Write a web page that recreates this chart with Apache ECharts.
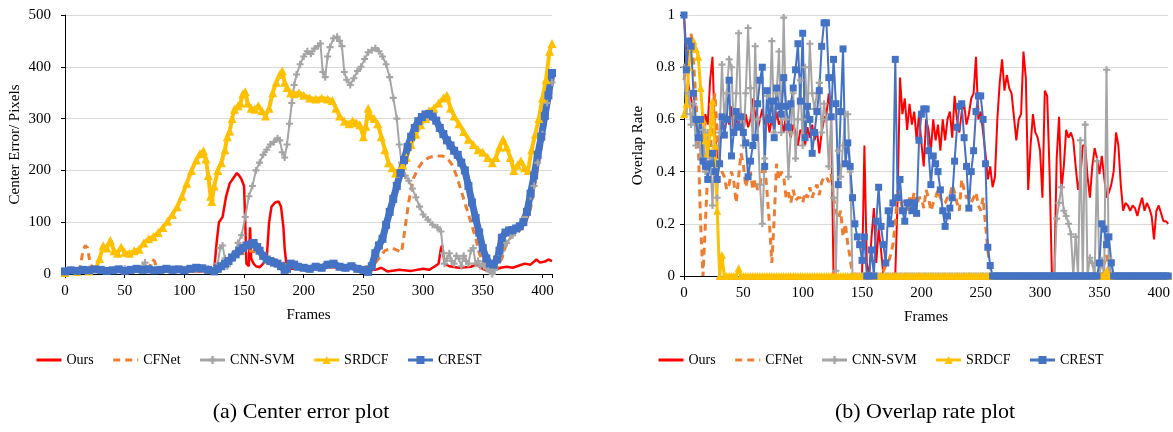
<!DOCTYPE html>
<html>
<head>
    <meta charset="UTF-8" />
    <title>Center error / overlap rate</title>
    <script src="https://cdn.jsdelivr.net/npm/echarts@6/dist/echarts.min.js"></script>
    <style>
        html, body { margin: 0; padding: 0; background: #fff; }
        #main { width: 1173px; height: 432px; }
    </style>
</head>
<body>
<div id="main"></div>
<script type="text/javascript">
    // series names (legend)
    var names = ['Ours', 'CFNet', 'CNN-SVM', 'SRDCF', 'CREST'];

    // (a) center error, [frame, pixels]
    var ceOurs = [[0,3],[5,5],[10,4],[20,6],[30,5],[40,7],[50,5],[60,6],[70,4],[80,6],[90,5],[100,7],[110,5],[120,6],[125,8],
        [127,60],[129,100],[132,110],[135,150],[138,175],[141,185],[144,195],[146,190],[148,182],[150,170],[151,100],[152,20],
        [154,15],[155,90],[156,30],[158,20],[160,15],[163,13],[166,20],[169,30],[171,100],[173,130],[176,138],[179,140],[181,130],
        [183,90],[184,50],[186,8],[190,10],[200,12],[210,10],[220,14],[230,12],[240,10],[250,9],[260,8],[265,12],[270,5],[280,8],
        [290,6],[300,10],[305,8],[310,15],[313,20],[315,50],[316,55],[318,20],[322,15],[330,12],[340,14],[345,18],[350,10],[355,5],
        [360,8],[365,12],[370,14],[375,12],[380,16],[385,20],[390,18],[395,28],[398,22],[402,24],[405,28],[408,25]];
    var ceCfnet = [[0,3],[5,4],[10,6],[13,15],[15,45],[17,55],[19,50],[21,20],[24,8],[30,6],[40,8],[50,7],[60,9],[70,8],[73,28],
        [75,25],[77,10],[85,8],[95,12],[105,10],[115,8],[125,10],[135,20],[140,30],[145,38],[150,40],[155,45],[160,42],[165,35],
        [170,30],[175,28],[180,25],[185,18],[190,15],[200,12],[210,14],[220,12],[230,15],[240,12],[250,14],[258,15],[263,30],
        [268,45],[274,50],[279,45],[282,42],[285,90],[288,140],[292,185],[296,205],[300,218],[305,225],[310,228],[316,228],
        [320,224],[324,212],[328,190],[332,160],[336,130],[340,100],[344,70],[347,40],[350,25],[354,15],[358,10],[362,12],
        [366,30],[370,60],[375,75],[380,82],[385,95],[390,125],[395,190],[400,255],[405,330],[408,375]];
    var ceCnn = [[0,5],[5,8],[10,6],[20,9],[30,7],[40,8],[50,10],[60,8],[65,15],[67,22],[69,10],[80,8],[90,10],[100,9],[110,8],
        [120,10],[125,8],[128,20],[130,50],[132,55],[134,30],[136,15],[139,25],[142,40],[145,60],[148,75],[151,110],[154,150],
        [157,170],[160,200],[163,215],[166,230],[169,240],[172,250],[175,255],[178,262],[180,258],[182,235],[184,225],[186,250],
        [188,290],[190,330],[192,365],[194,385],[197,405],[200,420],[203,430],[206,425],[209,435],[212,440],[214,445],[216,390],
        [218,380],[220,420],[222,438],[225,455],[228,458],[230,450],[232,440],[234,390],[236,375],[239,365],[242,378],[245,392],
        [248,400],[251,415],[254,428],[257,432],[260,436],[263,430],[266,420],[269,405],[272,380],[275,340],[278,300],[280,250],
        [282,215],[285,190],[288,180],[291,165],[294,148],[297,130],[300,115],[304,105],[308,95],[312,90],[315,82],[317,40],
        [318,20],[320,30],[322,40],[324,25],[326,20],[328,35],[330,30],[332,15],[334,35],[336,25],[338,20],[340,45],[342,50],
        [344,20],[346,25],[348,15],[350,20],[353,10],[356,5],[358,0],[360,8],[363,30],[366,45],[370,60],[375,75],[380,88],
        [385,110],[390,150],[393,170],[396,215],[400,270],[404,330],[408,370]];
    var ceSrdcf = [[0,3],[10,5],[20,6],[26,10],[29,30],[32,55],[35,50],[38,65],[41,45],[44,40],[47,52],[50,42],[54,40],[58,45],
        [62,48],[66,60],[70,68],[74,72],[78,80],[82,90],[86,102],[90,115],[94,130],[98,150],[102,175],[106,200],[110,220],
        [113,232],[116,238],[118,222],[120,190],[122,150],[123,140],[125,170],[128,200],[131,215],[134,240],[136,265],[138,276],
        [140,300],[142,318],[145,325],[147,330],[149,348],[151,352],[153,330],[156,320],[159,318],[162,325],[165,315],[168,305],
        [171,320],[174,350],[177,370],[180,385],[182,392],[184,370],[186,360],[189,350],[192,348],[196,350],[200,345],[205,340],
        [210,338],[215,340],[220,338],[224,335],[227,320],[230,305],[234,295],[238,290],[241,296],[244,292],[247,288],[250,265],
        [252,285],[254,320],[256,305],[259,300],[262,290],[265,265],[268,240],[271,215],[274,205],[277,195],[280,200],[283,210],
        [286,225],[290,250],[294,270],[298,288],[302,300],[305,315],[309,320],[313,330],[317,340],[320,345],[323,320],[326,305],
        [330,290],[334,275],[338,260],[342,250],[346,240],[350,235],[354,225],[358,215],[361,225],[364,245],[367,260],[370,245],
        [373,225],[376,200],[379,210],[382,218],[385,205],[388,200],[391,240],[394,270],[397,300],[400,340],[403,375],[406,430],
        [408,445]];
    var ceCrest = [[0,5],[5,7],[10,6],[15,8],[20,7],[25,9],[30,8],[35,6],[40,7],[45,9],[50,6],[55,8],[60,10],[65,8],[70,9],
        [75,7],[80,8],[85,10],[90,8],[95,9],[100,7],[105,10],[110,12],[115,11],[120,8],[125,5],[128,10],[131,15],[134,20],[137,25],
        [140,32],[143,38],[146,45],[149,50],[152,55],[155,57],[158,60],[161,52],[163,45],[166,35],[169,28],[172,25],[175,22],
        [178,20],[181,15],[184,8],[186,10],[189,20],[192,18],[195,14],[200,12],[205,10],[210,14],[215,12],[220,18],[225,20],
        [230,14],[235,12],[240,15],[245,10],[250,8],[254,4],[257,15],[260,40],[263,55],[266,68],[269,95],[272,120],[275,145],
        [278,170],[281,195],[284,220],[287,245],[290,265],[293,282],[296,295],[299,303],[302,308],[305,309],[308,304],[311,296],
        [314,282],[317,270],[320,258],[323,248],[326,238],[329,230],[332,215],[335,200],[338,170],[341,138],[344,108],[347,80],
        [350,50],[353,30],[356,20],[359,18],[362,28],[364,45],[366,70],[369,80],[372,84],[375,85],[378,88],[381,92],[384,100],
        [387,120],[390,155],[393,190],[396,230],[399,265],[402,305],[405,345],[408,388]];

    // (b) overlap rate, one value every ovStep frames starting at frame 0
    var ovStep = 2;
    var ovOurs = [
        1.00, 0.85, 0.72, 0.68, 0.62, 0.58, 0.55, 0.60, 0.50, 0.62,
        0.58, 0.75, 0.84, 0.55, 0.45, 0.52, 0.60, 0.55, 0.62, 0.58,
        0.65, 0.55, 0.60, 0.58, 0.63, 0.55, 0.62, 0.57, 0.60, 0.68,
        0.62, 0.56, 0.60, 0.64, 0.58, 0.62, 0.55, 0.60, 0.57, 0.63,
        0.58, 0.60, 0.55, 0.62, 0.57, 0.53, 0.58, 0.55, 0.50, 0.56,
        0.55, 0.50, 0.57, 0.53, 0.58, 0.52, 0.56, 0.47, 0.55, 0.60,
        0.62, 0.70, 0.60, 0, 0, 0, 0, 0, 0, 0,
        0, 0, 0, 0, 0, 0, 0.50, 0.05, 0, 0.15,
        0.26, 0.05, 0.18, 0.10, 0, 0, 0, 0, 0, 0,
        0.30, 0.76, 0.62, 0.68, 0.56, 0.66, 0.58, 0.63, 0.52, 0.62,
        0.51, 0.42, 0.60, 0.56, 0.48, 0.60, 0.52, 0.58, 0.48, 0.60,
        0.52, 0.60, 0.63, 0.53, 0.69, 0.60, 0.55, 0.63, 0.66, 0.58,
        0.62, 0.68, 0.70, 0.84, 0.60, 0.63, 0.55, 0.47, 0.37, 0.42,
        0.34, 0.38, 0.60, 0.74, 0.83, 0.71, 0.77, 0.72, 0.70, 0.61,
        0.52, 0.60, 0.62, 0.86, 0.76, 0.33, 0.50, 0.62, 0.55, 0.53,
        0.48, 0.30, 0.71, 0.69, 0.40, 0, 0, 0.45, 0.61, 0.33,
        0.42, 0.56, 0.53, 0.55, 0.52, 0.42, 0.33, 0.38, 0.50, 0.50,
        0.38, 0.30, 0.42, 0.49, 0.45, 0.39, 0.46, 0.38, 0.30, 0.32,
        0.35, 0.40, 0.55, 0.50, 0.35, 0.25, 0.28, 0.27, 0.25, 0.27,
        0.26, 0.23, 0.27, 0.30, 0.25, 0.28, 0.26, 0.23, 0.14, 0.25,
        0.27, 0.24, 0.21, 0.21, 0.20];
    var ovCfnet = [
        0.75, 0.82, 0.90, 0.93, 0.82, 0.68, 0.51, 0.20, 0, 0.20,
        0.40, 0.46, 0.60, 0.70, 0.55, 0.45, 0.40, 0.38, 0.33, 0.35,
        0.40, 0.36, 0.28, 0.38, 0.47, 0.43, 0.34, 0.38, 0.40, 0.33,
        0.37, 0.33, 0.35, 0.40, 0.43, 0.32, 0.20, 0.05, 0.22, 0.43,
        0.37, 0.40, 0.38, 0.30, 0.32, 0.28, 0.33, 0.29, 0.30, 0.30,
        0.28, 0.32, 0.30, 0.34, 0.30, 0.33, 0.35, 0.31, 0.36, 0.38,
        0.38, 0.36, 0.39, 0.30, 0.25, 0.22, 0.25, 0.15, 0.20, 0.12,
        0.07, 0, 0, 0, 0, 0, 0, 0, 0, 0,
        0, 0, 0, 0, 0.02, 0.04, 0.05, 0.08, 0.12, 0.20,
        0.33, 0.30, 0.26, 0.29, 0.25, 0.30, 0.28, 0.32, 0.27, 0.30,
        0.30, 0.26, 0.33, 0.30, 0.25, 0.28, 0.30, 0.33, 0.30, 0.28,
        0.28, 0.30, 0.30, 0.35, 0.32, 0.28, 0.25, 0.37, 0.33, 0.30,
        0.30, 0.28, 0.30, 0.32, 0.27, 0.25, 0.30, 0.20, 0.10, 0.02,
        0, 0, 0, 0, 0, 0, 0, 0, 0, 0,
        0, 0, 0, 0, 0, 0, 0, 0, 0, 0,
        0, 0, 0, 0, 0, 0, 0, 0, 0, 0,
        0, 0, 0, 0, 0, 0, 0, 0, 0, 0,
        0, 0, 0, 0, 0, 0, 0, 0.05, 0.08, 0.03,
        0, 0, 0, 0, 0, 0, 0, 0, 0, 0,
        0, 0, 0, 0, 0, 0, 0, 0, 0, 0,
        0, 0, 0, 0, 0];
    var ovCnn = [
        0.80, 0.62, 0.70, 0.58, 0.66, 0.50, 0.60, 0.45, 0.56, 0.40,
        0.55, 0.45, 0.27, 0.50, 0.30, 0.55, 0.81, 0.60, 0.70, 0.83,
        0.80, 0.55, 0.70, 0.93, 0.60, 0.50, 0.70, 0.95, 0.72, 0.50,
        0.88, 0.60, 0.35, 0.20, 0.45, 0.69, 0.60, 0.90, 0.55, 0.70,
        0.86, 0.55, 0.99, 0.60, 0.38, 0.55, 0.70, 0.45, 0.60, 0.75,
        0.50, 0.80, 0.60, 0.89, 0.70, 0.64, 0.70, 0.74, 0.55, 0.66,
        0.60, 0.42, 0.61, 0.30, 0.02, 0.48, 0.38, 0.50, 0.62, 0.62,
        0.40, 0, 0, 0, 0, 0, 0, 0, 0, 0,
        0, 0, 0, 0, 0, 0, 0, 0, 0, 0,
        0, 0, 0, 0, 0, 0, 0, 0, 0, 0,
        0, 0, 0, 0, 0, 0, 0, 0, 0, 0,
        0, 0, 0, 0, 0, 0, 0, 0, 0, 0,
        0, 0, 0, 0, 0, 0, 0, 0, 0, 0,
        0, 0, 0, 0, 0, 0, 0, 0, 0, 0,
        0, 0, 0, 0, 0, 0, 0, 0, 0, 0,
        0, 0, 0, 0, 0, 0, 0, 0.22, 0.28, 0.34,
        0.25, 0.23, 0.20, 0.16, 0, 0.15, 0, 0.52, 0, 0.58,
        0, 0.07, 0.05, 0, 0.44, 0, 0.06, 0, 0.79, 0,
        0.06, 0, 0, 0, 0, 0, 0, 0, 0, 0,
        0, 0, 0, 0, 0, 0, 0, 0, 0, 0,
        0, 0, 0, 0, 0];
    var ovSrdcf = [
        0.62, 0.66, 0.80, 0.88, 0.90, 0.87, 0.84, 0.72, 0.60, 0.52,
        0.47, 0.55, 0.67, 0.50, 0.25, 0, 0.08, 0, 0, 0,
        0, 0, 0, 0.03, 0, 0, 0, 0, 0, 0,
        0, 0, 0, 0, 0, 0, 0, 0, 0, 0,
        0, 0, 0, 0, 0, 0, 0, 0, 0, 0,
        0, 0, 0, 0, 0, 0, 0, 0, 0, 0,
        0, 0, 0, 0, 0, 0, 0, 0, 0, 0,
        0, 0, 0, 0, 0, 0, 0, 0, 0, 0,
        0, 0, 0, 0, 0, 0, 0, 0, 0, 0,
        0, 0, 0, 0, 0, 0, 0, 0, 0, 0,
        0, 0, 0, 0, 0, 0, 0, 0, 0, 0,
        0, 0, 0, 0, 0, 0, 0, 0, 0, 0,
        0, 0, 0, 0, 0, 0, 0, 0, 0, 0,
        0, 0, 0, 0, 0, 0, 0, 0, 0, 0,
        0, 0, 0, 0, 0, 0, 0, 0, 0, 0,
        0, 0, 0, 0, 0, 0, 0, 0, 0, 0,
        0, 0, 0, 0, 0, 0, 0, 0, 0, 0,
        0, 0, 0, 0, 0, 0, 0, 0, 0.02, 0,
        0, 0, 0, 0, 0, 0, 0, 0, 0, 0,
        0, 0, 0, 0, 0, 0, 0, 0, 0, 0,
        0, 0, 0, 0, 0];
    var ovCrest = [
        1.00, 0.79, 0.90, 0.88, 0.70, 0.60, 0.53, 0.60, 0.44, 0.42,
        0.37, 0.43, 0.47, 0.40, 0.37, 0.43, 0.61, 0.54, 0.60, 0.75,
        0.46, 0.55, 0.63, 0.57, 0.61, 0.55, 0.51, 0.38, 0.44, 0.50,
        0.53, 0.66, 0.75, 0.80, 0.42, 0.71, 0.60, 0.67, 0.53, 0.72,
        0.65, 0.62, 0.76, 0.65, 0.57, 0.66, 0.72, 0.79, 0.89, 0.67,
        0.93, 0.53, 0.65, 0.60, 0.47, 0.55, 0.63, 0.71, 0.88, 0.97,
        0.97, 0.76, 0.61, 0.83, 0.66, 0.35, 0.63, 0.87, 0.43, 0.51,
        0.42, 0.30, 0.20, 0.15, 0.12, 0.06, 0.15, 0, 0, 0.10,
        0, 0.21, 0.34, 0.19, 0.12, 0.05, 0.25, 0.20, 0.28, 0.83,
        0.30, 0.37, 0.25, 0.21, 0.28, 0.28, 0.25, 0.28, 0.24, 0.52,
        0.62, 0.64, 0.64, 0.48, 0.35, 0.46, 0.43, 0.40, 0.33, 0.25,
        0.19, 0.23, 0.26, 0.30, 0.44, 0.57, 0.65, 0.66, 0.53, 0.42,
        0.26, 0.40, 0.48, 0.63, 0.69, 0.69, 0.60, 0.43, 0.11, 0.04,
        0, 0, 0, 0, 0, 0, 0, 0, 0, 0,
        0, 0, 0, 0, 0, 0, 0, 0, 0, 0,
        0, 0, 0, 0, 0, 0, 0, 0, 0, 0,
        0, 0, 0, 0, 0, 0, 0, 0, 0, 0,
        0, 0, 0, 0, 0, 0.05, 0.20, 0.18, 0.12, 0.15,
        0.05, 0, 0, 0, 0, 0, 0, 0, 0, 0,
        0, 0, 0, 0, 0, 0, 0, 0, 0, 0,
        0, 0, 0, 0, 0];

    var colors = ['#ff0000', '#ed7d31', '#a5a5a5', '#ffc000', '#4472c4'];
    var font = '"Liberation Serif", "Times New Roman", serif';
    var plus = 'path://M0,3.5H10V6.5H0Z M3.5,0H6.5V10H3.5Z';

    function ov(values) {
        return values.map(function (v, i) { return [i * ovStep, v]; });
    }

    function xAxisOf(gridIndex) {
        return {
            type: 'value', gridIndex: gridIndex, min: 0, max: 408, interval: 50,
            name: 'Frames', nameLocation: 'middle', nameGap: 34,
            nameTextStyle: {fontFamily: font, fontSize: 15, color: '#000'},
            axisLine: {lineStyle: {color: '#000', width: 1}},
            axisTick: {show: true, length: 4, lineStyle: {color: '#000'}},
            axisLabel: {fontFamily: font, fontSize: 15, color: '#000', margin: 10,
                formatter: function (v) { return v % 50 === 0 ? String(v) : ''; }},
            splitLine: {show: false}
        };
    }

    // legend: plain line for the two series without markers
    var legendData = [
        {name: 'Ours', itemStyle: {opacity: 0}},
        {name: 'CFNet', itemStyle: {opacity: 0}},
        'CNN-SVM', 'SRDCF', 'CREST'
    ];
    function legendOf(left) {
        return {data: legendData, left: left, top: 348, itemWidth: 25, itemHeight: 10, itemGap: 18,
            textStyle: {fontFamily: font, fontSize: 14, color: '#000'}, lineStyle: {width: 3}};
    }

    var myChart = echarts.init(document.getElementById('main'));

    var option = {
        animation: false,
        backgroundColor: '#fff',
        color: colors,
        title: [
            {text: '(a) Center error plot', left: 296, top: 396, textAlign: 'center',
                textStyle: {fontFamily: font, fontSize: 22, fontWeight: 'normal', color: '#000'}},
            {text: '(b) Overlap rate plot', left: 920, top: 396, textAlign: 'center',
                textStyle: {fontFamily: font, fontSize: 22, fontWeight: 'normal', color: '#000'}}
        ],
        legend: [legendOf(30), legendOf(652)],
        grid: [
            {left: 65, top: 15, width: 487, height: 259},
            {left: 684, top: 15, width: 486, height: 261}
        ],
        xAxis: [xAxisOf(0), xAxisOf(1)],
        yAxis: [
            {type: 'value', gridIndex: 0, min: 0, max: 500, interval: 100,
                name: 'Center Error/ Pixels', nameLocation: 'middle', nameGap: 42,
                nameTextStyle: {fontFamily: font, fontSize: 15, color: '#000'},
                axisLine: {show: true, lineStyle: {color: '#000'}},
                axisTick: {show: true, length: 4, lineStyle: {color: '#000'}},
                axisLabel: {fontFamily: font, fontSize: 15, color: '#000', margin: 14},
                splitLine: {lineStyle: {color: '#d9d9d9', width: 1}}},
            {type: 'value', gridIndex: 1, min: 0, max: 1, interval: 0.2,
                name: 'Overlap Rate', nameLocation: 'middle', nameGap: 38,
                nameTextStyle: {fontFamily: font, fontSize: 15, color: '#000'},
                axisLine: {show: true, lineStyle: {color: '#000'}},
                axisTick: {show: true, length: 4, lineStyle: {color: '#000'}},
                axisLabel: {fontFamily: font, fontSize: 15, color: '#000', margin: 9},
                splitLine: {lineStyle: {color: '#d9d9d9', width: 1}}}
        ],
        series: [
            // (a)
            {name: 'Ours', type: 'line', xAxisIndex: 0, yAxisIndex: 0, data: ceOurs, symbol: 'none',
                lineStyle: {color: colors[0], width: 2.5}, itemStyle: {color: colors[0]}},
            {name: 'CFNet', type: 'line', xAxisIndex: 0, yAxisIndex: 0, data: ceCfnet, symbol: 'none',
                lineStyle: {color: colors[1], width: 3, type: [7, 5]}, itemStyle: {color: colors[1]}},
            {name: 'CNN-SVM', type: 'line', xAxisIndex: 0, yAxisIndex: 0, data: ceCnn, symbol: plus, symbolSize: 7,
                lineStyle: {color: colors[2], width: 2}, itemStyle: {color: colors[2]}},
            {name: 'SRDCF', type: 'line', xAxisIndex: 0, yAxisIndex: 0, data: ceSrdcf, symbol: 'triangle', symbolSize: 9,
                lineStyle: {color: colors[3], width: 4}, itemStyle: {color: colors[3]}},
            {name: 'CREST', type: 'line', xAxisIndex: 0, yAxisIndex: 0, data: ceCrest, symbol: 'rect', symbolSize: 8,
                lineStyle: {color: colors[4], width: 7}, itemStyle: {color: colors[4]}},
            // (b)
            {name: 'Ours', type: 'line', xAxisIndex: 1, yAxisIndex: 1, data: ov(ovOurs), symbol: 'none',
                lineStyle: {color: colors[0], width: 2}, itemStyle: {color: colors[0]}},
            {name: 'CFNet', type: 'line', xAxisIndex: 1, yAxisIndex: 1, data: ov(ovCfnet), symbol: 'none',
                lineStyle: {color: colors[1], width: 3, type: [7, 5]}, itemStyle: {color: colors[1]}},
            {name: 'CNN-SVM', type: 'line', xAxisIndex: 1, yAxisIndex: 1, data: ov(ovCnn), symbol: plus, symbolSize: 7,
                lineStyle: {color: colors[2], width: 2}, itemStyle: {color: colors[2]}},
            {name: 'SRDCF', type: 'line', xAxisIndex: 1, yAxisIndex: 1, data: ov(ovSrdcf), symbol: 'triangle', symbolSize: 8,
                lineStyle: {color: colors[3], width: 3}, itemStyle: {color: colors[3]}},
            {name: 'CREST', type: 'line', xAxisIndex: 1, yAxisIndex: 1, data: ov(ovCrest), symbol: 'rect', symbolSize: 7,
                lineStyle: {color: colors[4], width: 2}, itemStyle: {color: colors[4]}}
        ]
    };

    myChart.setOption(option);
</script>
</body>
</html>
